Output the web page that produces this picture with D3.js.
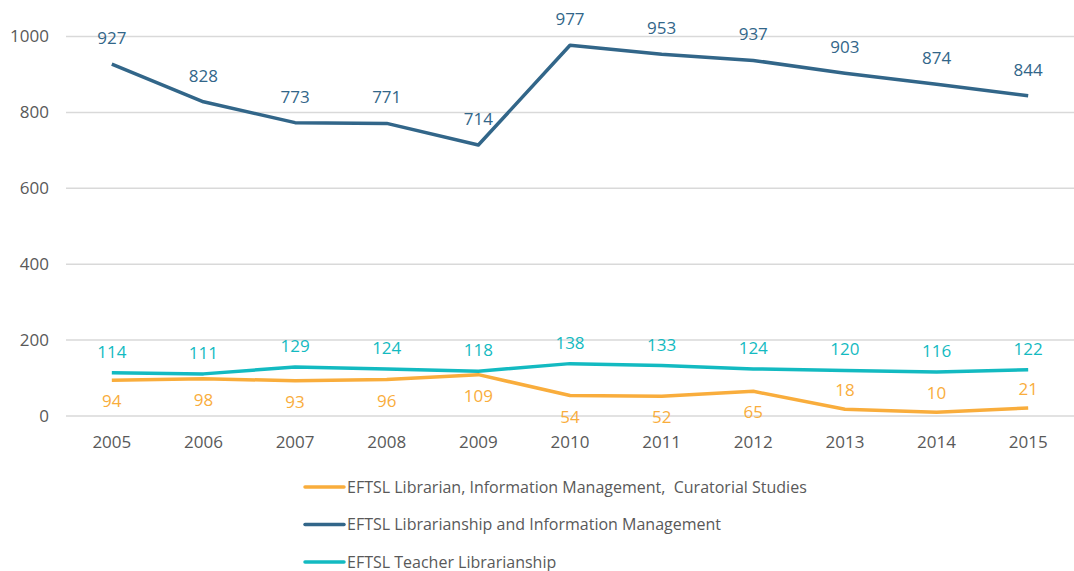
<!DOCTYPE html>
<html>
<head>
<meta charset="utf-8">
<script src="https://cdn.jsdelivr.net/npm/d3@7"></script>
<style>
  body { margin: 0; background: #fff; }
  svg text { font-family: "Open Sans", "Liberation Sans", sans-serif; }
</style>
</head>
<body>
<svg id="chart" width="1074" height="571"></svg>
<script>
var years = ["2005", "2006", "2007", "2008", "2009", "2010", "2011", "2012", "2013", "2014", "2015"];
var curatorial = [94, 98, 93, 96, 109, 54, 52, 65, 18, 10, 21];
var infoMgmt = [927, 828, 773, 771, 714, 977, 953, 937, 903, 874, 844];
var teacher = [114, 111, 129, 124, 118, 138, 133, 124, 120, 116, 122];
var yTicks = [0, 200, 400, 600, 800, 1000];

// "above" = gap between point and label baseline when label sits over the line
var series = [
  { name: "EFTSL Librarian, Information Management,  Curatorial Studies", values: curatorial, color: "#F9AD3C", above: 13, below: [true, true, true, true, true, true, true, true, false, false, false] },
  { name: "EFTSL Librarianship and Information Management", values: infoMgmt, color: "#326689", above: 20, below: null },
  { name: "EFTSL Teacher Librarianship", values: teacher, color: "#13BAC1", above: 15, below: null }
];

var svg = d3.select("#chart");

var x = d3.scaleBand().domain(years).range([66, 1074]);
var y = d3.scaleLinear().domain([0, 1000]).range([416, 36.5]);

// gridlines
svg.append("g")
  .selectAll("line")
  .data(yTicks)
  .enter().append("line")
  .attr("x1", 66)
  .attr("x2", 1074)
  .attr("y1", function(d) { return y(d); })
  .attr("y2", function(d) { return y(d); })
  .attr("stroke", "#d9d9d9")
  .attr("stroke-width", 1.5);

// y axis labels
var yAxis = svg.append("g")
  .attr("transform", "translate(66,0)")
  .call(d3.axisLeft(y).tickValues(yTicks).tickFormat(d3.format("d")).tickSize(0).tickPadding(17));
yAxis.select(".domain").remove();
yAxis.selectAll("text").attr("fill", "#595959").style("font-size", "17px");

// x axis labels
var xAxis = svg.append("g")
  .attr("transform", "translate(0,416)")
  .call(d3.axisBottom(x).tickSize(0).tickPadding(20));
xAxis.select(".domain").remove();
xAxis.selectAll("text").attr("fill", "#595959").style("font-size", "17px");

var line = d3.line()
  .x(function(d, i) { return x(years[i]) + x.bandwidth() / 2; })
  .y(function(d) { return y(d); });

series.forEach(function(s) {
  svg.append("path")
    .datum(s.values)
    .attr("fill", "none")
    .attr("stroke", s.color)
    .attr("stroke-width", 3.5)
    .attr("stroke-linejoin", "round")
    .attr("d", line);
});

// data labels
series.forEach(function(s) {
  svg.append("g")
    .selectAll("text")
    .data(s.values)
    .enter().append("text")
    .attr("x", function(d, i) { return x(years[i]) + x.bandwidth() / 2; })
    .attr("y", function(d, i) {
      if (s.below && s.below[i]) return y(d) + 27;
      return y(d) - s.above;
    })
    .attr("text-anchor", "middle")
    .attr("fill", s.color)
    .style("font-size", "17px")
    .text(function(d) { return d; });
});

// legend
var legend = svg.append("g")
  .selectAll("g")
  .data(series)
  .enter().append("g")
  .attr("transform", function(d, i) { return "translate(305," + (487 + i * 37.5) + ")"; });

legend.append("line")
  .attr("x1", 0).attr("x2", 39)
  .attr("stroke", function(d) { return d.color; })
  .attr("stroke-width", 3.5)
  .attr("stroke-linecap", "round");

legend.append("text")
  .attr("x", 42)
  .attr("y", 5.5)
  .attr("fill", "#595959")
  .style("font-size", "16px")
  .style("white-space", "pre")
  .text(function(d) { return d.name; });
</script>
</body>
</html>
